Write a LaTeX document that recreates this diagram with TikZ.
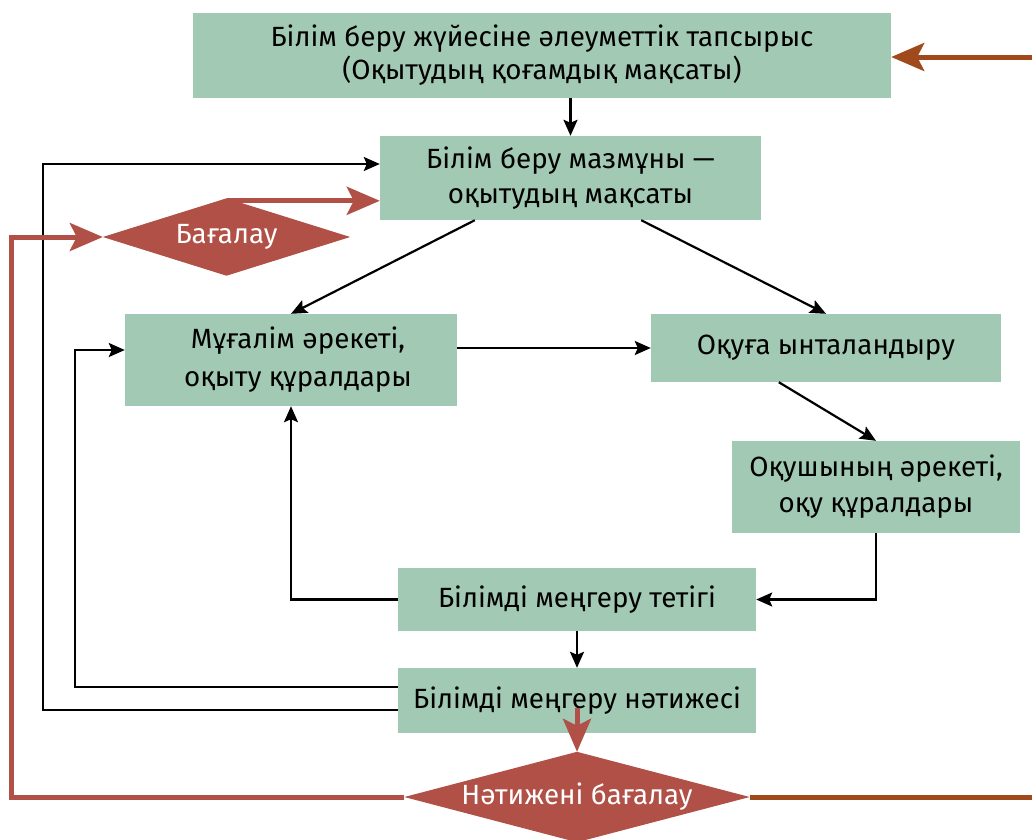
\documentclass[tikz,border=0pt]{standalone}
\usepackage{fontspec}
\setmainfont{Fira Sans}
\usetikzlibrary{arrows.meta,calc,backgrounds}
\definecolor{boxgreen}{HTML}{A2C9B3}
\definecolor{evalred}{HTML}{B05046}
\definecolor{brownline}{HTML}{A0491A}
\tikzset{
  box/.style={fill=boxgreen,draw=none,inner sep=0pt,align=center,font=\fontsize{27.8}{35}\selectfont},
  evalnode/.style={draw=none,inner sep=0pt,text=white,font=\fontsize{27.8}{35}\selectfont},
  evalfill/.style={fill=evalred,draw=none},
  arr/.style={line width=2.2pt,-{Stealth[length=16pt,width=14pt,inset=3pt]}},
  redarr/.style={line width=5pt,evalred,-{Stealth[length=33pt,width=28pt,inset=7pt]}},
  brownarr/.style={line width=5pt,brownline,-{Stealth[length=33pt,width=28pt,inset=7pt]}},
  brownln/.style={line width=5pt,brownline}
}
\begin{document}
\begin{tikzpicture}[x=1pt,y=-1pt]
\useasboundingbox (0,0) rectangle (1032,839);
\node[box,minimum width=698pt,minimum height=85pt,font=\fontsize{27.8}{33}\selectfont] (b1) at (542,55.5) {Білім беру жүйесіне әлеуметтік тапсырыс\\(Оқытудың қоғамдық мақсаты)};
\node[box,minimum width=381pt,minimum height=84pt] (b2) at (570.5,178) {Білім беру мазмұны —\\оқытудың мақсаты};
\node[box,minimum width=332pt,minimum height=92pt,font=\fontsize{27.8}{38}\selectfont] (b3) at (291,360) {\hspace*{14pt}Мұғалім әрекеті,\\\hspace*{14pt}оқыту құралдары};
\node[box,minimum width=350pt,minimum height=68pt] (b4) at (826,348) {Оқуға ынталандыру};
\node[box,minimum width=288pt,minimum height=92pt,font=\fontsize{27.8}{36}\selectfont] (b5) at (876,487) {Оқушының әрекеті,\\оқу құралдары};
\node[box,minimum width=358pt,minimum height=63pt] (b6) at (577,599.5) {Білімді меңгеру тетігі};
\node[box,minimum width=358pt,minimum height=65pt] (b7) at (577,700.5) {Білімді меңгеру нәтижесі};
\node[evalnode,minimum width=247pt,minimum height=77pt] (d1) at (226.5,237) {Бағалау};
\node[evalnode,minimum width=345pt,minimum height=90pt] (d2) at (577,797) {Нәтижені бағалау};
\begin{scope}[on background layer]
\fill[evalfill] (d1.west) -- (d1.north) -- (d1.east) -- (d1.south) -- cycle;
\fill[evalfill] (d2.west) -- (d2.north) -- (d2.east) -- (d2.south) -- cycle;
\end{scope}
% black connectors
\draw[arr] (b1.south -| b2.north) -- (b2.north);
\draw[arr] ($(b2.south west)+(95,0)$) -- (b3.north);
\draw[arr] ($(b2.south east)+(-120,0)$) -- (b4.north);
\draw[arr] (b3.east |- b4.west) -- (b4.west);
\draw[arr] ($(b4.south west)+(128,0)$) -- (b5.north);
\draw[arr] (b5.south) |- (b6.east);
\draw[arr] (b6.west) -| (b3.south);
\draw[arr] (b6.south) -- (b7.north);
\draw[arr] ($(b7.west)+(0,-13.5)$) -- ++(-323,0) |- ($(b3.west)+(0,-10)$);
\draw[arr] ($(b7.west)+(0,9.5)$) -- ++(-355,0) |- ($(b2.west)+(0,-14)$);
% red / brown connectors
\draw[redarr] ($(d1.north)+(0,2.5)$) -- ($(d1.north -| b2.west)+(0,2.5)$);
\draw[redarr] (d2.west) -- ++(-393,0) |- (d1.west);
\draw[redarr] ($(d2.north)+(0,-44)$) -- (d2.north);
\coordinate (rtop) at (1032,57);
\coordinate (rbot) at (1032,797);
\draw[brownarr] (rtop) -- (rtop -| b1.east);
\draw[brownln] (d2.east) -- (rbot);
\end{tikzpicture}
\end{document}
